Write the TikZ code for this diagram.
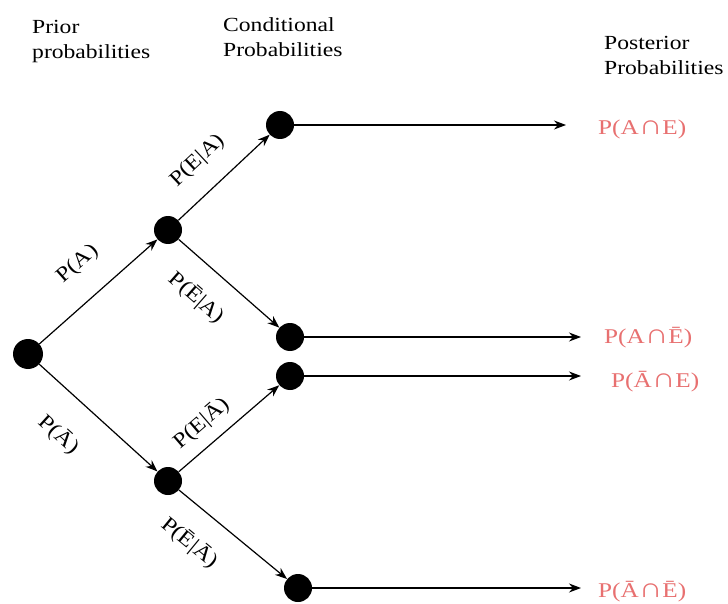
\documentclass[tikz,border=0pt]{standalone}
\usepackage{fontspec}
\setmainfont{Liberation Serif}
\newfontfamily\headfont[FakeStretch=1.18]{Liberation Serif}
\newfontfamily\postfont[FakeStretch=1.2]{Liberation Serif}
\newfontfamily\edgefont[FakeStretch=1.15]{Liberation Serif}
\usetikzlibrary{arrows.meta}
\definecolor{postred}{RGB}{232,112,112}
% intersection sign at capital height
\newcommand\isect{\scalebox{1.3}{∩}}
\begin{document}
\begin{tikzpicture}[x=1pt,y=-1pt,
  dot/.style={circle,fill=black,inner sep=0pt,minimum size=28pt},
  branch/.style={line width=1.2pt,-{Stealth[length=12pt,width=9pt]}},
  elabel/.style={font=\edgefont\fontsize{21}{21}\selectfont,sloped,inner sep=0pt},
  header/.style={font=\headfont\fontsize{20}{25}\selectfont,align=left,anchor=north west,inner sep=0pt},
  post/.style={font=\postfont\fontsize{21}{21}\selectfont,text=postred,anchor=base west,inner sep=0pt}]
  \useasboundingbox (0,0) rectangle (728,604);
  \fill[white] (0,0) rectangle (728,604);

  % column headings
  \node[header] (hprior) at (32,20) {Prior\\probabilities};
  \node[header] (hcond) at (223,17) {Conditional\\Probabilities};
  \node[header] (hpost) at (604,36) {Posterior\\Probabilities};

  % tree nodes
  \node[dot,minimum size=30pt] (root) at (28,354) {};
  \node[dot] (a) at (168,230) {};
  \node[dot] (na) at (168,481) {};
  \node[dot] (ae) at (280,125) {};
  \node[dot] (ane) at (290,337) {};
  \node[dot] (nae) at (290,376) {};
  \node[dot] (nane) at (298,588) {};

  % posterior results
  \node[post] (pae) at (598,135) {P(A\isect E)};
  \node[post] (pane) at (604,343) {P(A\isect Ē)};
  \node[post] (pnae) at (611,387) {P(Ā\isect E)};
  \node[post] (pnane) at (598,597) {P(Ā\isect Ē)};

  \coordinate (eae) at (566,125);
  \coordinate (eane) at (581,337);
  \coordinate (enae) at (581,376);
  \coordinate (enane) at (581,588);

  % branches with their probabilities
  \draw[branch] (root) -- node[elabel,pos=0.52,above=24pt] {P(A)} (a);
  \draw[branch] (root) -- node[elabel,pos=0.39,below=28pt] {P(Ā)} (na);
  \draw[branch] (a) -- node[elabel,pos=0.44,above=20pt] {P(E|A)} (ae);
  \draw[branch] (a) -- node[elabel,pos=0.39,below=21pt] {P(Ē|A)} (ane);
  \draw[branch] (na) -- node[elabel,pos=0.37,above=11pt] {P(E|Ā)} (nae);
  \draw[branch] (na) -- node[elabel,pos=0.30,below=23pt] {P(Ē|Ā)} (nane);

  % leaves to posteriors
  \draw[branch] (ae) -- (eae);
  \draw[branch] (ane) -- (eane);
  \draw[branch] (nae) -- (enae);
  \draw[branch] (nane) -- (enane);
\end{tikzpicture}
\end{document}
